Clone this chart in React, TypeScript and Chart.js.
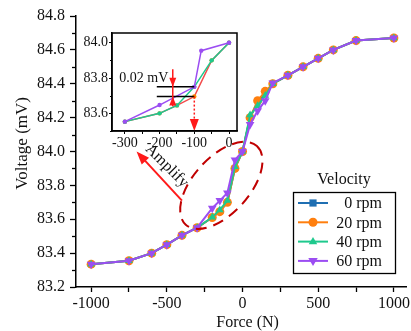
import React, { useEffect, useRef } from 'react';
import { Chart, registerables } from 'chart.js';
Chart.register(...registerables);

// ---------- main chart data ----------
const forceN = [-1000, -750, -600, -500, -400, -300, -200, -150, -100, -50, 0, 50, 100, 150, 200, 300, 400, 500, 600, 750, 1000];
const volt0rpm = [83.335, 83.355, 83.4, 83.45, 83.505, 83.55, 83.61, 83.645, 83.7, 83.9, 84.0, 84.2, 84.29, 84.34, 84.4, 84.45, 84.5, 84.55, 84.6, 84.655, 84.67];
const volt20rpm = [83.335, 83.355, 83.4, 83.45, 83.505, 83.55, 83.61, 83.645, 83.7, 83.9, 84.0, 84.2, 84.3, 84.355, 84.4, 84.45, 84.5, 84.55, 84.6, 84.655, 84.67];
const volt40rpm = [83.335, 83.355, 83.4, 83.45, 83.505, 83.55, 83.612, 83.655, 83.71, 83.91, 84.0, 84.215, 84.27, 84.33, 84.4, 84.45, 84.5, 84.55, 84.6, 84.655, 84.67];
const volt60rpm = [83.335, 83.355, 83.4, 83.45, 83.505, 83.55, 83.665, 83.71, 83.755, 83.95, 84.0, 84.16, 84.24, 84.3, 84.405, 84.45, 84.5, 84.55, 84.6, 84.655, 84.67];
const seriesLabels = ['0 rpm', '20 rpm', '40 rpm', '60 rpm'];
const xTickValues = [-1000, -750, -500, -250, 0, 250, 500, 750, 1000];
const yTickValues = [83.2, 83.4, 83.6, 83.8, 84.0, 84.2, 84.4, 84.6, 84.8];
const yMinorTickValues = [83.3, 83.5, 83.7, 83.9, 84.1, 84.3, 84.5, 84.7];
const xTitle = 'Force (N)';
const yTitle = 'Voltage (mV)';
const legendTitle = 'Velocity';

// ---------- inset data ----------
const insetX60 = [-300, -200, -100, -80, 0];
const insetV60 = [83.553, 83.647, 83.75, 83.955, 84.0];
const insetX40 = [-300, -200, -150, -100, -50, 0];
const insetV40 = [83.553, 83.6, 83.645, 83.75, 83.9, 84.0];
const insetXRed = [-300, -200, -150, -100, -50, 0];
const insetVRed = [83.553, 83.6, 83.645, 83.695, 83.9, 84.0];
const insetXTicks = [-300, -250, -200, -150, -100, -50, 0];
const insetYTicks = [83.6, 83.8, 84.0];
const insetYMinor = [83.5, 83.7, 83.9];

const FONT = "'Liberation Serif', 'Times New Roman', serif";
const COLORS = ['#1f6fb2', '#ff7f0e', '#1ec98d', '#9b4df2'];
const STYLES = ['rect', 'circle', 'triangle', 'triangle'];
const ROTS = [0, 0, 0, 180];
const RADII = [4, 4.5, 4.5, 5];

function drawMarker(ctx: CanvasRenderingContext2D, style: string, rot: number, x: number, y: number, r: number, color: string) {
  ctx.save();
  ctx.fillStyle = color;
  ctx.beginPath();
  if (style === 'rect') {
    ctx.rect(x - r * 0.9, y - r * 0.9, r * 1.8, r * 1.8);
  } else if (style === 'circle') {
    ctx.arc(x, y, r, 0, Math.PI * 2);
  } else {
    const s = rot === 180 ? -1 : 1;
    ctx.moveTo(x, y - s * r);
    ctx.lineTo(x + r * 0.95, y + s * r * 0.6);
    ctx.lineTo(x - r * 0.95, y + s * r * 0.6);
    ctx.closePath();
  }
  ctx.fill();
  ctx.restore();
}

function arrowHead(ctx: CanvasRenderingContext2D, tx: number, ty: number, ang: number, len: number, wid: number) {
  const bx = tx - len * Math.cos(ang);
  const by = ty - len * Math.sin(ang);
  const px = -Math.sin(ang) * wid / 2;
  const py = Math.cos(ang) * wid / 2;
  ctx.beginPath();
  ctx.moveTo(tx, ty);
  ctx.lineTo(bx + px, by + py);
  ctx.lineTo(bx - px, by - py);
  ctx.closePath();
  ctx.fill();
}

// annotation anchors (data coordinates)
const ellipseCenter = { x: -140, y: 83.8 };
const amplifyStart = { x: -400, y: 83.71 };
const amplifyTip = { x: -700, y: 84.0 };
const amplifyText = { x: -500, y: 83.915 };

const mainPlugin = {
  id: 'mainDecor',
  afterDraw(chart: any) {
    const ctx: CanvasRenderingContext2D = chart.ctx;
    const xs = chart.scales.x;
    const ys = chart.scales.y;
    const area = chart.chartArea;
    ctx.save();
    // axis titles
    ctx.fillStyle = '#111';
    ctx.textAlign = 'center';
    ctx.textBaseline = 'middle';
    ctx.font = `16px ${FONT}`;
    ctx.fillText(xTitle, area.left + (area.right - area.left) * 0.52, chart.height - 8);
    ctx.save();
    ctx.translate(23, area.top + (area.bottom - area.top) * 0.47);
    ctx.rotate(-Math.PI / 2);
    ctx.font = `17px ${FONT}`;
    ctx.fillText(yTitle, 0, 0);
    ctx.restore();
    // minor y ticks
    ctx.strokeStyle = '#000';
    ctx.lineWidth = 1.3;
    yMinorTickValues.forEach((v) => {
      const py = Math.round(ys.getPixelForValue(v)) + 0.5;
      ctx.beginPath();
      ctx.moveTo(area.left - 4, py);
      ctx.lineTo(area.left, py);
      ctx.stroke();
    });
    // ellipse
    const cx = xs.getPixelForValue(ellipseCenter.x);
    const cy = ys.getPixelForValue(ellipseCenter.y);
    ctx.strokeStyle = '#c00000';
    ctx.lineWidth = 2;
    ctx.setLineDash([11, 7]);
    ctx.beginPath();
    ctx.ellipse(cx, cy, 53, 28, -Math.PI / 4 - 0.05, 0, Math.PI * 2);
    ctx.stroke();
    ctx.setLineDash([]);
    // amplify arrow
    const sx = xs.getPixelForValue(amplifyStart.x);
    const sy = ys.getPixelForValue(amplifyStart.y);
    const tx = xs.getPixelForValue(amplifyTip.x);
    const ty = ys.getPixelForValue(amplifyTip.y);
    const ang = Math.atan2(ty - sy, tx - sx);
    ctx.strokeStyle = '#ff1a1a';
    ctx.fillStyle = '#ff1a1a';
    ctx.lineWidth = 2;
    ctx.beginPath();
    ctx.moveTo(sx, sy);
    ctx.lineTo(tx - 8 * Math.cos(ang), ty - 8 * Math.sin(ang));
    ctx.stroke();
    arrowHead(ctx, tx, ty, ang, 13, 10);
    // amplify text
    ctx.save();
    ctx.translate(xs.getPixelForValue(amplifyText.x), ys.getPixelForValue(amplifyText.y));
    ctx.rotate(Math.PI / 4);
    ctx.fillStyle = '#111';
    ctx.font = `16px ${FONT}`;
    ctx.textAlign = 'center';
    ctx.textBaseline = 'middle';
    ctx.fillText('Amplify', 0, 0);
    ctx.restore();
    // legend
    const bx = area.right - 113;
    const by = area.bottom - 95;
    const bw = 102;
    const bh = 81;
    ctx.fillStyle = '#fff';
    ctx.fillRect(bx, by, bw, bh);
    ctx.strokeStyle = '#000';
    ctx.lineWidth = 1.3;
    ctx.strokeRect(bx + 0.5, by + 0.5, bw, bh);
    ctx.fillStyle = '#111';
    ctx.font = `16px ${FONT}`;
    ctx.textAlign = 'center';
    ctx.textBaseline = 'middle';
    ctx.fillText(legendTitle, bx + bw / 2, by - 12);
    seriesLabels.forEach((lab, i) => {
      const ry = by + 11 + i * 19.3;
      ctx.strokeStyle = COLORS[i];
      ctx.lineWidth = 2;
      ctx.beginPath();
      ctx.moveTo(bx + 5, ry);
      ctx.lineTo(bx + 35, ry);
      ctx.stroke();
      drawMarker(ctx, STYLES[i], ROTS[i], bx + 20, ry, RADII[i], COLORS[i]);
      ctx.fillStyle = '#111';
      ctx.textAlign = 'right';
      ctx.fillText(lab, bx + 89, ry + 1);
    });
    ctx.restore();
  },
};

// inset annotation anchors
const insetLevelHigh = 83.75;
const insetLevelLow = 83.695;
const insetLineFrom = -208;
const insetLineTo = -100;
const insetArrowX = -162;
const insetArrowTop = 83.85;
const insetArrowBottom = 83.64;
const insetDropBottom = 83.5;
const insetTextPos = { x: -316, y: 83.8 };

const insetPlugin = {
  id: 'insetDecor',
  beforeDraw(chart: any) {
    const a = chart.chartArea;
    const ctx = chart.ctx;
    ctx.save();
    ctx.fillStyle = '#fff';
    ctx.fillRect(a.left, a.top, a.right - a.left, a.bottom - a.top);
    ctx.restore();
  },
  afterDraw(chart: any) {
    const ctx: CanvasRenderingContext2D = chart.ctx;
    const xs = chart.scales.x;
    const ys = chart.scales.y;
    const a = chart.chartArea;
    ctx.save();
    // minor y ticks
    ctx.strokeStyle = '#000';
    ctx.lineWidth = 1;
    insetYMinor.forEach((v) => {
      const py = Math.round(ys.getPixelForValue(v)) + 0.5;
      ctx.beginPath();
      ctx.moveTo(a.left - 2, py);
      ctx.lineTo(a.left, py);
      ctx.stroke();
    });
    // black level lines
    ctx.strokeStyle = '#000';
    ctx.lineWidth = 1.5;
    [insetLevelHigh, insetLevelLow].forEach((v) => {
      const py = ys.getPixelForValue(v);
      ctx.beginPath();
      ctx.moveTo(xs.getPixelForValue(insetLineFrom), py);
      ctx.lineTo(xs.getPixelForValue(insetLineTo), py);
      ctx.stroke();
    });
    // red double arrow
    const ax = xs.getPixelForValue(insetArrowX);
    ctx.strokeStyle = '#ff1a1a';
    ctx.fillStyle = '#ff1a1a';
    ctx.lineWidth = 1.5;
    ctx.beginPath();
    ctx.moveTo(ax, ys.getPixelForValue(insetArrowTop));
    ctx.lineTo(ax, ys.getPixelForValue(insetArrowBottom));
    ctx.stroke();
    arrowHead(ctx, ax, ys.getPixelForValue(insetLevelHigh), Math.PI / 2, 9, 7);
    arrowHead(ctx, ax, ys.getPixelForValue(insetLevelLow), -Math.PI / 2, 9, 7);
    // dotted drop arrow
    const dx = xs.getPixelForValue(insetLineTo);
    const dTop = ys.getPixelForValue(insetLevelLow);
    const dBot = ys.getPixelForValue(insetDropBottom);
    ctx.setLineDash([2, 2]);
    ctx.beginPath();
    ctx.moveTo(dx, dTop);
    ctx.lineTo(dx, dBot - 10);
    ctx.stroke();
    ctx.setLineDash([]);
    arrowHead(ctx, dx, dBot, Math.PI / 2, 12, 9);
    // text
    ctx.fillStyle = '#111';
    ctx.font = `14px ${FONT}`;
    ctx.textAlign = 'left';
    ctx.textBaseline = 'middle';
    ctx.fillText('0.02 mV', xs.getPixelForValue(insetTextPos.x), ys.getPixelForValue(insetTextPos.y));
    // frame
    ctx.strokeStyle = '#000';
    ctx.lineWidth = 1.5;
    ctx.strokeRect(a.left, a.top, a.right - a.left, a.bottom - a.top);
    ctx.restore();
  },
};

function toPts(xsArr: number[], ysArr: number[]) {
  return xsArr.map((x, i) => ({ x, y: ysArr[i] }));
}

export default function App() {
  const mainRef = useRef<HTMLCanvasElement>(null);
  const insetRef = useRef<HTMLCanvasElement>(null);

  useEffect(() => {
    document.body.style.margin = '0';
    Chart.defaults.font.family = FONT;
    const allSeries = [volt0rpm, volt20rpm, volt40rpm, volt60rpm];
    const main = new Chart(mainRef.current as HTMLCanvasElement, {
      type: 'scatter',
      data: {
        datasets: allSeries.map((vals, i) => ({
          label: seriesLabels[i],
          data: toPts(forceN, vals),
          showLine: true,
          borderColor: COLORS[i],
          backgroundColor: COLORS[i],
          borderWidth: 2,
          pointStyle: STYLES[i] as any,
          rotation: ROTS[i],
          pointRadius: RADII[i],
          pointBorderWidth: 0,
          order: 4 - i,
        })),
      },
      options: {
        animation: false,
        responsive: false,
        layout: { padding: { top: 16, right: 0, left: 0, bottom: 0 } },
        plugins: { legend: { display: false }, tooltip: { enabled: false } },
        scales: {
          x: {
            type: 'linear',
            min: -1100,
            max: 1080,
            afterBuildTicks: (s: any) => {
              s.ticks = xTickValues.map((v) => ({ value: v }));
            },
            afterFit: (s: any) => {
              s.height = 44;
              s.paddingLeft = 0;
              s.paddingRight = 0;
            },
            ticks: {
              autoSkip: false,
              maxRotation: 0,
              padding: 2,
              color: '#111',
              font: { size: 16 },
              callback: (v: any) => (Math.abs(v) % 500 === 0 ? String(v) : ''),
            },
            grid: { drawOnChartArea: false, drawTicks: true, tickLength: 5, tickColor: '#000', tickWidth: 1.3 },
            border: { display: true, color: '#000', width: 1.5 },
          },
          y: {
            type: 'linear',
            min: 83.2,
            max: 84.8,
            afterBuildTicks: (s: any) => {
              s.ticks = yTickValues.map((v) => ({ value: v }));
            },
            afterFit: (s: any) => {
              s.width = 76;
              s.paddingTop = 0;
              s.paddingBottom = 0;
            },
            ticks: {
              autoSkip: false,
              padding: 5,
              color: '#111',
              font: { size: 16 },
              callback: (v: any) => Number(v).toFixed(1),
            },
            grid: { drawOnChartArea: false, drawTicks: true, tickLength: 6, tickColor: '#000', tickWidth: 1.3 },
            border: { display: true, color: '#000', width: 1.5 },
          },
        },
      },
      plugins: [mainPlugin],
    } as any);

    const insetSeries = [
      { xs: insetXRed, vs: insetVRed, color: '#f24a4a', pt: '#ff8c00' },
      { xs: insetX40, vs: insetV40, color: '#1ec98d', pt: '#1ec98d' },
      { xs: insetX60, vs: insetV60, color: '#9b4df2', pt: '#9b4df2' },
    ];
    const inset = new Chart(insetRef.current as HTMLCanvasElement, {
      type: 'scatter',
      data: {
        datasets: insetSeries.map((s, i) => ({
          data: toPts(s.xs, s.vs),
          showLine: true,
          borderColor: s.color,
          backgroundColor: s.pt,
          borderWidth: 1.5,
          pointRadius: 2.2,
          pointBorderWidth: 0,
          order: 3 - i,
        })),
      },
      options: {
        animation: false,
        responsive: false,
        layout: { padding: { top: 7, right: 11, left: 0, bottom: 0 } },
        plugins: { legend: { display: false }, tooltip: { enabled: false } },
        scales: {
          x: {
            type: 'linear',
            min: -337,
            max: 23,
            afterBuildTicks: (s: any) => {
              s.ticks = insetXTicks.map((v) => ({ value: v }));
            },
            afterFit: (s: any) => {
              s.height = 25;
              s.paddingLeft = 0;
              s.paddingRight = 0;
            },
            ticks: {
              autoSkip: false,
              maxRotation: 0,
              padding: 1,
              color: '#111',
              font: { size: 14 },
              callback: (v: any) => (Math.abs(v) % 100 === 0 ? String(v) : ''),
            },
            grid: { drawOnChartArea: false, drawTicks: true, tickLength: 3, tickColor: '#000', tickWidth: 1 },
            border: { display: true, color: '#000', width: 1.5 },
          },
          y: {
            type: 'linear',
            min: 83.5,
            max: 84.055,
            afterBuildTicks: (s: any) => {
              s.ticks = insetYTicks.map((v) => ({ value: v }));
            },
            afterFit: (s: any) => {
              s.width = 34;
              s.paddingTop = 0;
              s.paddingBottom = 0;
            },
            ticks: {
              autoSkip: false,
              padding: 1,
              color: '#111',
              font: { size: 14 },
              callback: (v: any) => Number(v).toFixed(1),
            },
            grid: { drawOnChartArea: false, drawTicks: true, tickLength: 3, tickColor: '#000', tickWidth: 1 },
            border: { display: true, color: '#000', width: 1.5 },
          },
        },
      },
      plugins: [insetPlugin],
    } as any);

    return () => {
      main.destroy();
      inset.destroy();
    };
  }, []);

  return (
    <div style={{ position: 'relative', width: 411, height: 331, background: '#fff' }}>
      <canvas ref={mainRef} width={411} height={331} style={{ display: 'block', position: 'absolute', left: 0, top: 0 }} />
      <canvas ref={insetRef} width={170} height={130} style={{ display: 'block', position: 'absolute', left: 78, top: 26 }} />
    </div>
  );
}
